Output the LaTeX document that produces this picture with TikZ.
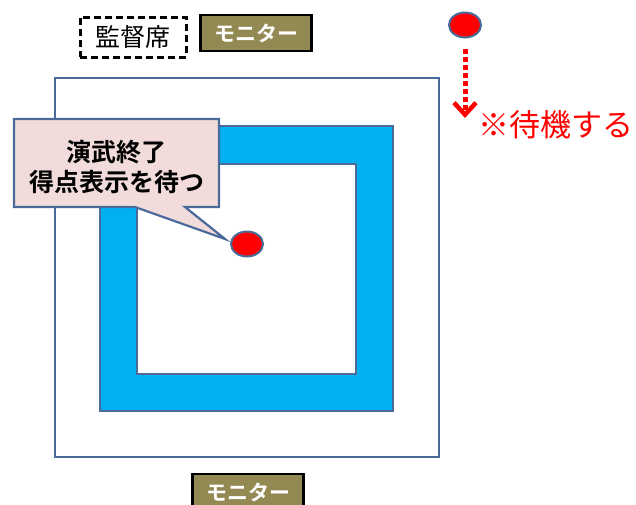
\documentclass[tikz,border=0pt]{standalone}
\usepackage{fontspec}
\newfontfamily\jp{Noto Sans CJK JP}
\newfontfamily\jpb{Noto Sans CJK JP Bold}
\usetikzlibrary{arrows.meta,shapes.geometric}
\definecolor{edgeblue}{HTML}{4A6A9A}
\definecolor{band}{HTML}{00B0F0}
\definecolor{pinkfill}{HTML}{F2DCDB}
\definecolor{olive}{HTML}{938953}
\tikzset{
  dot/.style={ellipse, draw=edgeblue, line width=2pt, fill=red, minimum width=32pt, minimum height=25pt, inner sep=0pt},
  monitor/.style={draw=black, line width=2.2pt, fill=olive, text=white, font=\jpb\fontsize{21}{21}\selectfont, minimum width=111pt, minimum height=36pt, inner sep=0pt},
}
\begin{document}
\begin{tikzpicture}[x=1pt,y=-1pt]
\useasboundingbox (0,0) rectangle (636,504);
% outer square
\draw[edgeblue, line width=2.2pt] (55,78) rectangle (439,457);
% blue band
\fill[band, draw=edgeblue, line width=1.4pt, even odd rule] (100,126) rectangle (393,411) (137,164) rectangle (356,374);
% callout
\draw[edgeblue, line width=2.2pt, fill=pinkfill] (14,119) -- (219,119) -- (219,207) -- (185,207) -- (225,239) -- (135,207) -- (14,207) -- cycle;
\node[font=\jpb\fontsize{25}{30}\selectfont, align=center] (callout) at (116.5,167) {演武終了\\得点表示を待つ};
% dots
\node[dot] (d1) at (247,244) {};
\node[dot] (d2) at (465,25) {};
\coordinate (tip) at (465,118);
\draw[red, line width=5pt, dash pattern=on 5pt off 3pt, -{Straight Barb[length=12pt,width=22pt,line width=4.5pt]}] (d2.south)++(0,10) -- (tip);
\node[anchor=west, text=red, font=\jp\fontsize{31}{31}\selectfont, inner sep=0pt] (wait) at (478,125) {※待機する};
% kantoku seat
\node[draw=black, line width=3pt, dash pattern=on 7pt off 4pt, minimum width=106pt, minimum height=40pt, inner sep=0pt, font=\jp\fontsize{25}{25}\selectfont] (seat) at (133,37) {監督席};
% monitors
\node[monitor] (m1) at (256,33) {モニター};
\node[monitor] (m2) at (248,492) {モニター};
\end{tikzpicture}
\end{document}
